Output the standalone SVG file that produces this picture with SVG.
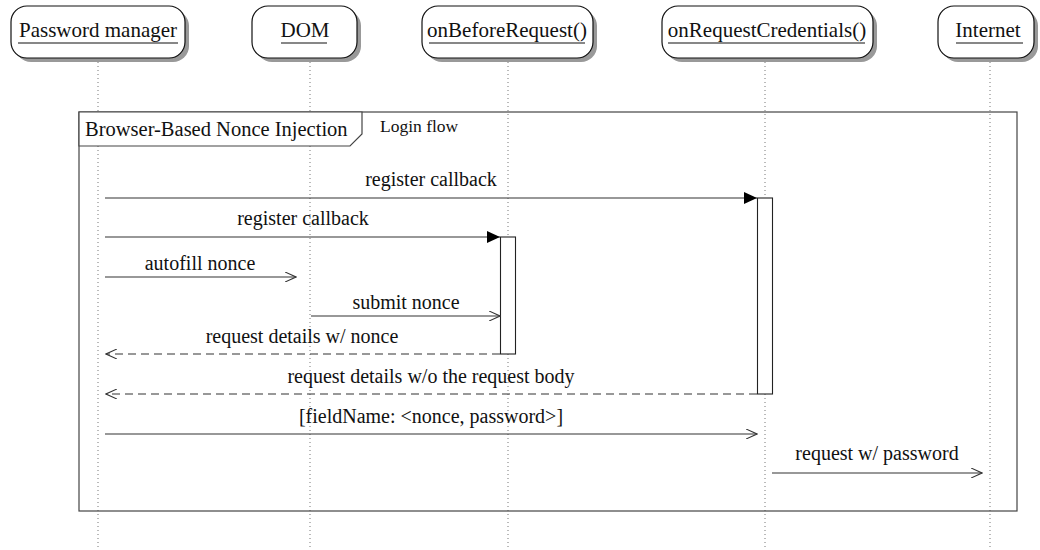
<svg xmlns="http://www.w3.org/2000/svg" width="1040" height="550" viewBox="0 0 1040 550">
<style>
text{font-family:"Liberation Serif","Times New Roman",serif;fill:#111}
.hd{font-size:21px;text-anchor:middle}
.lb{font-size:20px;text-anchor:middle}
.box{fill:#fff;stroke:#111;stroke-width:1.2}
.sh{fill:#999}
.ul{stroke:#111;stroke-width:1.2}
.life{stroke:#777;stroke-width:1;stroke-dasharray:1 3}
.msg{stroke:#333;stroke-width:1.2;fill:none}
.dash{stroke-dasharray:8 5}
.act{fill:#fff;stroke:#222;stroke-width:1.1}
</style>
<defs>
<marker id="fill" markerWidth="14" markerHeight="12" refX="13" refY="6" orient="auto" markerUnits="userSpaceOnUse"><path d="M0,0 L13,6 L0,12 Z" fill="#000"/></marker>
<marker id="open" markerWidth="12" markerHeight="10" refX="11" refY="5" orient="auto" markerUnits="userSpaceOnUse"><path d="M0,0 L11,5 L0,10" fill="none" stroke="#333" stroke-width="1.1"/></marker>
</defs>
<g id="lifelines">
<line class="life" x1="98" y1="62" x2="98" y2="550"/>
<line class="life" x1="310" y1="62" x2="310" y2="550"/>
<line class="life" x1="508" y1="62" x2="508" y2="550"/>
<line class="life" x1="765" y1="62" x2="765" y2="550"/>
<line class="life" x1="990" y1="62" x2="990" y2="550"/>
</g>
<g id="n-pm"><rect class="sh" x="15" y="10" width="174" height="52" rx="16"/><rect class="box" x="11" y="6" width="174" height="52" rx="16"/><text class="hd" x="98" y="37">Password manager</text><line class="ul" x1="18" y1="43" x2="178" y2="43"/></g>
<g id="n-dom"><rect class="sh" x="256" y="10" width="105" height="52" rx="16"/><rect class="box" x="252" y="6" width="105" height="52" rx="16"/><text class="hd" x="305" y="37">DOM</text><line class="ul" x1="281" y1="43" x2="327" y2="43"/></g>
<g id="n-obr"><rect class="sh" x="426" y="10" width="171" height="52" rx="16"/><rect class="box" x="422" y="6" width="171" height="52" rx="16"/><text class="hd" x="507" y="37">onBeforeRequest()</text><line class="ul" x1="429" y1="43" x2="585" y2="43"/></g>
<g id="n-orc"><rect class="sh" x="666" y="10" width="211" height="52" rx="16"/><rect class="box" x="662" y="6" width="211" height="52" rx="16"/><text class="hd" x="767" y="37">onRequestCredentials()</text><line class="ul" x1="668" y1="43" x2="865" y2="43"/></g>
<g id="n-int"><rect class="sh" x="942" y="10" width="96" height="52" rx="16"/><rect class="box" x="938" y="6" width="96" height="52" rx="16"/><text class="hd" x="988" y="37">Internet</text><line class="ul" x1="956" y1="43" x2="1023" y2="43"/></g>
<g id="frame">
<rect x="79" y="112" width="938" height="399" fill="none" stroke="#444" stroke-width="1.2"/>
<path d="M79,112 H362 V134 L350,146 H79 Z" fill="#fff" stroke="#444" stroke-width="1.2"/>
<text x="85" y="136" style="font-size:20.5px">Browser-Based Nonce Injection</text>
<text x="380" y="132" style="font-size:17.5px">Login flow</text>
</g>
<g id="activations">
<rect class="act" x="500.5" y="237" width="15" height="117"/>
<rect class="act" x="757.5" y="198" width="15" height="196"/>
</g>
<g id="connectors">
<line class="msg" x1="105" y1="198" x2="757" y2="198" marker-end="url(#fill)"/>
<text class="lb" x="431" y="186">register callback</text>
<line class="msg" x1="105" y1="237" x2="500" y2="237" marker-end="url(#fill)"/>
<text class="lb" x="303" y="225">register callback</text>
<line class="msg" x1="105" y1="277" x2="296" y2="277" marker-end="url(#open)"/>
<text class="lb" x="200" y="270">autofill nonce</text>
<line class="msg" x1="311" y1="316" x2="500" y2="316" marker-end="url(#open)"/>
<text class="lb" x="406" y="309">submit nonce</text>
<line class="msg dash" x1="500" y1="354" x2="106" y2="354" marker-end="url(#open)"/>
<text class="lb" x="302" y="343">request details w/ nonce</text>
<line class="msg dash" x1="757" y1="394" x2="106" y2="394" marker-end="url(#open)"/>
<text class="lb" x="431" y="383">request details w/o the request body</text>
<line class="msg" x1="105" y1="434" x2="757" y2="434" marker-end="url(#open)"/>
<text class="lb" x="431" y="423">[fieldName: &lt;nonce, password&gt;]</text>
<line class="msg" x1="772" y1="473" x2="982" y2="473" marker-end="url(#open)"/>
<text class="lb" x="877" y="460">request w/ password</text>
</g>
</svg>
